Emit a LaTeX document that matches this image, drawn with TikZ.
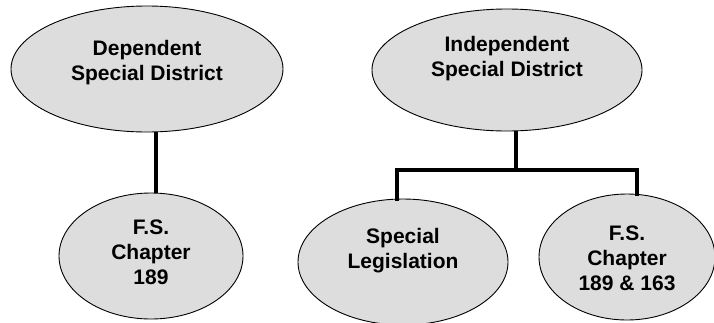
\documentclass[tikz,border=0pt]{standalone}
\usepackage{fontspec}
\setmainfont{Liberation Sans}
\usetikzlibrary{shapes.geometric}
\definecolor{ovalfill}{HTML}{DDDDDD}
\begin{document}
\begin{tikzpicture}[x=1pt,y=-1pt,
  oval/.style={ellipse,draw=black,line width=0.9pt,fill=ovalfill,inner sep=0pt},
  lbl/.style={align=center,font=\fontsize{21}{25}\selectfont\bfseries,inner sep=0pt},
  conn/.style={line width=4pt,line cap=rect}]
\useasboundingbox (0,0) rectangle (714,322);
\node[oval,minimum width=272pt,minimum height=126pt] (dep) at (147,69) {};
\node[lbl] (deptxt) at (147,63) {Dependent\\Special District};
\node[oval,minimum width=184pt,minimum height=126pt] (fs1) at (151,256) {};
\node[lbl] (fs1txt) at (151,252) {F.S.\\Chapter\\189};
\node[oval,minimum width=270pt,minimum height=122pt] (ind) at (507,70) {};
\node[lbl] (indtxt) at (507,59) {Independent\\Special District};
\node[oval,minimum width=210pt,minimum height=126pt] (spl) at (403,262) {};
\node[lbl] (spltxt) at (403,251) {Special\\Legislation};
\node[oval,minimum width=176pt,minimum height=126pt] (fs2) at (627,257) {};
\node[lbl] (fs2txt) at (627,258) {F.S.\\Chapter\\189 \& 163};
\coordinate (hub) at (516,170);
\coordinate (hl) at (397,170);
\coordinate (hr) at (637,170);
\draw[line width=4pt] (dep.south -| 156,0) -- (fs1.north -| 156,0);
\draw[line width=4pt] (ind.south -| hub) -- (hub);
\draw[line width=4pt,line cap=rect] (hl |- spl.north) -- (hl) -- (hr) -- (hr |- fs2.north);
\end{tikzpicture}
\end{document}
